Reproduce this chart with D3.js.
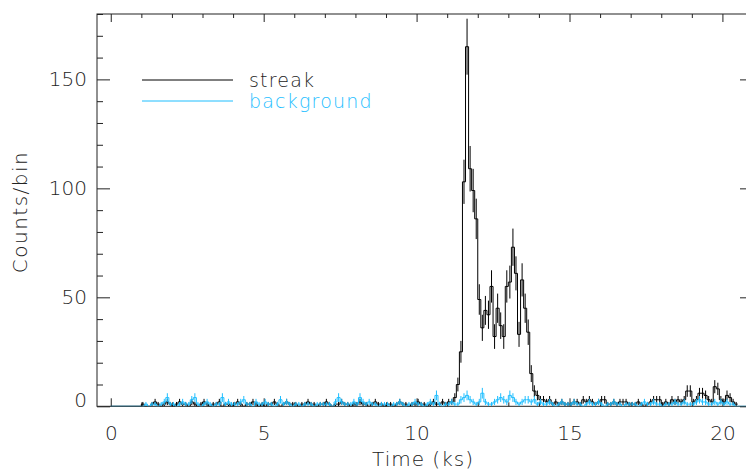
<!DOCTYPE html>
<html>
<head>
<meta charset="utf-8">
<script src="https://cdn.jsdelivr.net/npm/d3@7"></script>
<style>
body { margin: 0; background: #fff; }
text { font-family: "DejaVu Sans", sans-serif; font-weight: 200; fill: #222; }
</style>
</head>
<body>
<script>
//data: counts per 0.1 ks bin, starting at t = 0
var binWidth = 0.1;
var streakCounts = [
  0,0,0,0,0,0,0,0,0,0,
  1,0,0,1,2,1,0,1,2,1,
  0,1,2,1,1,0,2,1,0,1,
  2,1,0,1,1,2,0,1,1,0,
  1,2,1,0,1,1,2,1,0,1,
  0,1,1,2,1,0,1,2,1,1,
  1,0,1,1,2,1,1,0,1,1,
  2,1,0,1,1,2,1,1,0,1,
  1,2,1,1,0,1,2,1,1,0,
  1,1,0,1,2,1,1,0,1,1,
  2,1,1,0,1,2,1,1,2,1,
  2,2,4,10,25,103,165,109,99,86,
  49,36,44,42,55,32,45,37,32,55,
  57,73,61,33,58,45,34,15,7,5,
  3,3,2,3,1,2,1,2,1,1,
  1,2,2,1,3,2,3,2,1,2,
  3,3,1,1,2,1,2,2,2,1,
  1,1,2,1,0,1,2,3,3,3,
  1,2,1,3,2,3,2,3,7,7,
  2,3,6,6,5,3,2,9,8,3,
  2,5,4,2,1
];
var backgroundCounts = [
  0,0,0,0,0,0,0,0,0,0,
  0,1,0,1,1,0,1,2,4,1,
  1,0,1,2,1,1,3,4,1,0,
  1,2,1,0,1,1,4,1,2,1,
  1,1,2,3,1,1,0,2,1,1,
  2,1,1,0,1,3,1,2,1,0,
  1,1,0,1,1,1,0,1,1,1,
  1,1,0,2,4,2,1,1,1,2,
  1,4,2,1,2,1,1,0,1,1,
  1,0,1,1,2,1,0,1,1,2,
  1,1,0,1,2,1,5,1,0,1,
  1,2,1,1,3,4,5,3,2,1,
  2,6,2,1,1,2,3,4,3,2,
  5,4,2,1,2,3,3,2,3,1,
  2,1,1,2,1,0,1,2,1,1,
  1,2,1,1,0,1,2,1,1,2,
  1,0,1,1,2,1,1,0,1,1,
  1,1,0,1,2,1,1,2,1,1,
  0,1,1,1,2,1,1,2,1,1,
  1,2,3,2,2,1,1,2,1,2,
  1,2,1,1,0,0,0,0,0,0
];
var seriesNames = ["streak", "background"];
var seriesColors = ["#000000", "#1ebeff"];
var xMajorTicks = [0, 5, 10, 15, 20];
var yMajorTicks = [0, 50, 100, 150];

//variables
var cWidth = 746;
var cHeight = 474;
var pLeft = 97, pRight = 753, pTop = 14, pBottom = 406.3;

var xScale = d3.scaleLinear().domain([-0.45, 21.0]).range([pLeft, pRight]);
var yScale = d3.scaleLinear().domain([0, 180]).range([pBottom, pTop]);

var svg = d3.select("body")
    .append("svg")
    .attr("width", cWidth)
    .attr("height", cHeight);

svg.append("rect").attr("width", cWidth).attr("height", cHeight).attr("fill", "#fff");

svg.append("clipPath").attr("id", "plot")
   .append("rect")
   .attr("x", pLeft).attr("y", pTop)
   .attr("width", pRight - pLeft).attr("height", pBottom - pTop);

var xMinor = d3.range(0, 22, 1).filter(function(d) { return xMajorTicks.indexOf(d) < 0; });
var yMinor = d3.range(0, 181, 10).filter(function(d) { return yMajorTicks.indexOf(d) < 0; });

// bottom axis
svg.append("g").attr("transform", "translate(0," + pBottom + ")")
   .call(d3.axisBottom(xScale).tickValues(xMajorTicks).tickSize(-8).tickPadding(19.5));
svg.append("g").attr("transform", "translate(0," + pBottom + ")")
   .call(d3.axisBottom(xScale).tickValues(xMinor).tickSize(-4).tickFormat(""));
// top axis
svg.append("g").attr("transform", "translate(0," + pTop + ")")
   .call(d3.axisTop(xScale).tickValues(xMajorTicks).tickSize(-8).tickFormat(""));
svg.append("g").attr("transform", "translate(0," + pTop + ")")
   .call(d3.axisTop(xScale).tickValues(xMinor).tickSize(-4).tickFormat(""));
// left axis
var yAxisG = svg.append("g").attr("transform", "translate(" + pLeft + ",0)")
   .call(d3.axisLeft(yScale).tickValues(yMajorTicks).tickSize(-13).tickPadding(10));
svg.append("g").attr("transform", "translate(" + pLeft + ",0)")
   .call(d3.axisLeft(yScale).tickValues(yMinor).tickSize(-6).tickFormat(""));
// right axis
svg.append("g").attr("transform", "translate(" + pRight + ",0)")
   .call(d3.axisRight(yScale).tickValues(yMajorTicks).tickSize(-13).tickFormat(""));
svg.append("g").attr("transform", "translate(" + pRight + ",0)")
   .call(d3.axisRight(yScale).tickValues(yMinor).tickSize(-6).tickFormat(""));

svg.selectAll(".domain").remove();
svg.selectAll(".tick line").attr("stroke", "#222");
svg.selectAll(".tick text")
   .attr("font-size", 20)
   .style("font-family", "DejaVu Sans, sans-serif")
   .style("font-weight", 200)
   .attr("fill", "#222");
// the zero label sits a little above its tick
yAxisG.selectAll(".tick text").filter(function(d) { return d === 0; }).attr("y", -6);

// frame
svg.append("rect")
   .attr("x", pLeft).attr("y", pTop)
   .attr("width", pRight - pLeft).attr("height", pBottom - pTop)
   .attr("fill", "none").attr("stroke", "#222").attr("stroke-width", 1);

// data
var step = d3.line()
    .x(function(d) { return xScale(d.t); })
    .y(function(d) { return yScale(d.v); })
    .curve(d3.curveStepAfter);

function toPoints(counts) {
  var pts = counts.map(function(v, i) { return {t: i * binWidth, v: v}; });
  pts.push({t: counts.length * binWidth, v: counts[counts.length - 1]});
  return pts;
}

function toBars(counts) {
  return counts.map(function(v, i) { return {t: (i + 0.5) * binWidth, v: v}; })
               .filter(function(d) { return d.v > 0; });
}

[streakCounts, backgroundCounts].forEach(function(counts, k) {
  var g = svg.append("g").attr("clip-path", "url(#plot)");
  g.append("path")
   .datum(toPoints(counts))
   .attr("d", step)
   .attr("fill", "none")
   .attr("stroke", seriesColors[k])
   .attr("stroke-width", 1);
  g.selectAll("line")
   .data(toBars(counts))
   .enter()
   .append("line")
   .attr("x1", function(d) { return xScale(d.t); })
   .attr("x2", function(d) { return xScale(d.t); })
   .attr("y1", function(d) { return yScale(d.v - Math.sqrt(d.v)); })
   .attr("y2", function(d) { return yScale(d.v + Math.sqrt(d.v)); })
   .attr("stroke", seriesColors[k])
   .attr("stroke-width", 1);
});

// legend
var legend = svg.append("g");
seriesNames.forEach(function(name, k) {
  var ly = 80 + k * 21;
  legend.append("line")
        .attr("x1", 142).attr("x2", 233)
        .attr("y1", ly).attr("y2", ly)
        .attr("stroke", seriesColors[k]).attr("stroke-width", 1);
  legend.append("text")
        .attr("x", 249).attr("y", ly + 7)
        .attr("font-size", 19)
        .attr("letter-spacing", 1.2)
        .style("fill", k == 0 ? "#222" : seriesColors[k])
        .text(name);
});

// axis titles
svg.append("text")
   .attr("x", 423).attr("y", 466)
   .attr("text-anchor", "middle")
   .attr("font-size", 20)
   .attr("letter-spacing", 1)
   .text("Time (ks)");

svg.append("text")
   .attr("transform", "translate(27,212) rotate(-90)")
   .attr("text-anchor", "middle")
   .attr("font-size", 20)
   .attr("letter-spacing", 1.5)
   .text("Counts/bin");
</script>
</body>
</html>
